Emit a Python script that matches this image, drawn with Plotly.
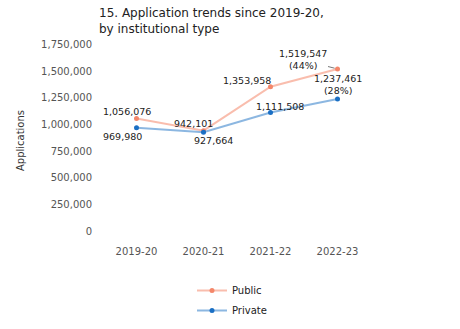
import plotly.graph_objects as go

# Application counts by academic year and institutional type
years = ["2019-20", "2020-21", "2021-22", "2022-23"]
public_apps = [1056076, 942101, 1353958, 1519547]
private_apps = [969980, 927664, 1111508, 1237461]
y_ticks = [0, 250000, 500000, 750000, 1000000, 1250000, 1500000, 1750000]

FONT = "DejaVu Sans"
PUB_MARK = "#f4876a"
PUB_LINE = "rgba(244,135,106,0.55)"
PRI_MARK = "#1a6fc4"
PRI_LINE = "rgba(26,111,196,0.5)"

W, H = 460, 329
ML, MR, MT, MB = 103, 89, 39, 87
PLOT_W = W - ML - MR
PLOT_H = H - MT - MB

fig = go.Figure()
fig.add_trace(go.Scatter(
    x=years, y=public_apps, name="Public", mode="lines+markers",
    legendgroup="pub",
    line=dict(color=PUB_LINE, width=2),
    marker=dict(color=PUB_MARK, size=5),
))
fig.add_trace(go.Scatter(
    x=years, y=private_apps, name="Private", mode="lines+markers",
    legendgroup="pri",
    line=dict(color=PRI_LINE, width=2),
    marker=dict(color=PRI_MARK, size=5),
))

# value labels, offset (px) from their markers
pub_offsets = [(-10, 7), (-10, 7), (-24, 6), None]
pri_offsets = [(-14, -9), (10, -8), (9, 6), None]

def fmt(v):
    return f"{v:,}"

anns = []
for i, (yr, v) in enumerate(zip(years, public_apps)):
    if pub_offsets[i] is None:
        continue
    dx, dy = pub_offsets[i]
    anns.append(dict(x=yr, y=v, text=fmt(v), showarrow=False,
                     xshift=dx, yshift=dy))
for i, (yr, v) in enumerate(zip(years, private_apps)):
    if pri_offsets[i] is None:
        continue
    dx, dy = pri_offsets[i]
    anns.append(dict(x=yr, y=v, text=fmt(v), showarrow=False,
                     xshift=dx, yshift=dy))

# final-year labels with growth since the first year
pub_growth = round((public_apps[-1] / public_apps[0] - 1) * 100)
pri_growth = round((private_apps[-1] / private_apps[0] - 1) * 100)
anns.append(dict(x=years[-1], y=public_apps[-1],
                 text=f"{fmt(public_apps[-1])}<br>({pub_growth}%)",
                 showarrow=True, arrowhead=0, arrowwidth=0.8,
                 arrowcolor="#555", ax=-35, ay=-9, standoff=3))
anns.append(dict(x=years[-1], y=private_apps[-1],
                 text=f"{fmt(private_apps[-1])}<br>({pri_growth}%)",
                 showarrow=False, yshift=15))

for a in anns:
    a.update(xref="x", yref="y", font=dict(family=FONT, size=9.5, color="#222"))

# chart title, top-left
anns.append(dict(
    text="15. Application trends since 2019-20,<br>by institutional type",
    xref="paper", yref="paper",
    x=(97 - ML) / PLOT_W, y=1 + (MT - 4) / PLOT_H,
    xanchor="left", yanchor="top", align="left", showarrow=False,
    font=dict(family=FONT, size=12, color="#222"),
))

fig.update_layout(
    width=W, height=H,
    margin=dict(l=ML, r=MR, t=MT, b=MB, autoexpand=False),
    paper_bgcolor="white", plot_bgcolor="white",
    font=dict(family=FONT, size=10, color="#555"),
    xaxis=dict(
        range=[-0.5, 3.5], showgrid=False, zeroline=False, showline=False,
        tickfont=dict(family=FONT, size=10, color="#555"),
        ticklabelstandoff=2,
    ),
    yaxis=dict(
        range=[-100000, 1800000], tickvals=y_ticks,
        ticktext=[fmt(v) for v in y_ticks],
        showgrid=False, zeroline=False, showline=False,
        tickfont=dict(family=FONT, size=10, color="#555"),
        ticklabelstandoff=10,
        title=dict(text="Applications", standoff=14,
                   font=dict(family=FONT, size=10, color="#333")),
    ),
    legend=dict(
        orientation="v", x=0.5 - 5 / PLOT_W, xanchor="center",
        y=-(276 - (MT + PLOT_H)) / PLOT_H, yanchor="top",
        font=dict(family=FONT, size=10, color="#222"),
        itemwidth=30, tracegroupgap=1,
    ),
    annotations=anns,
    showlegend=True,
)

fig.write_html("out.html")
